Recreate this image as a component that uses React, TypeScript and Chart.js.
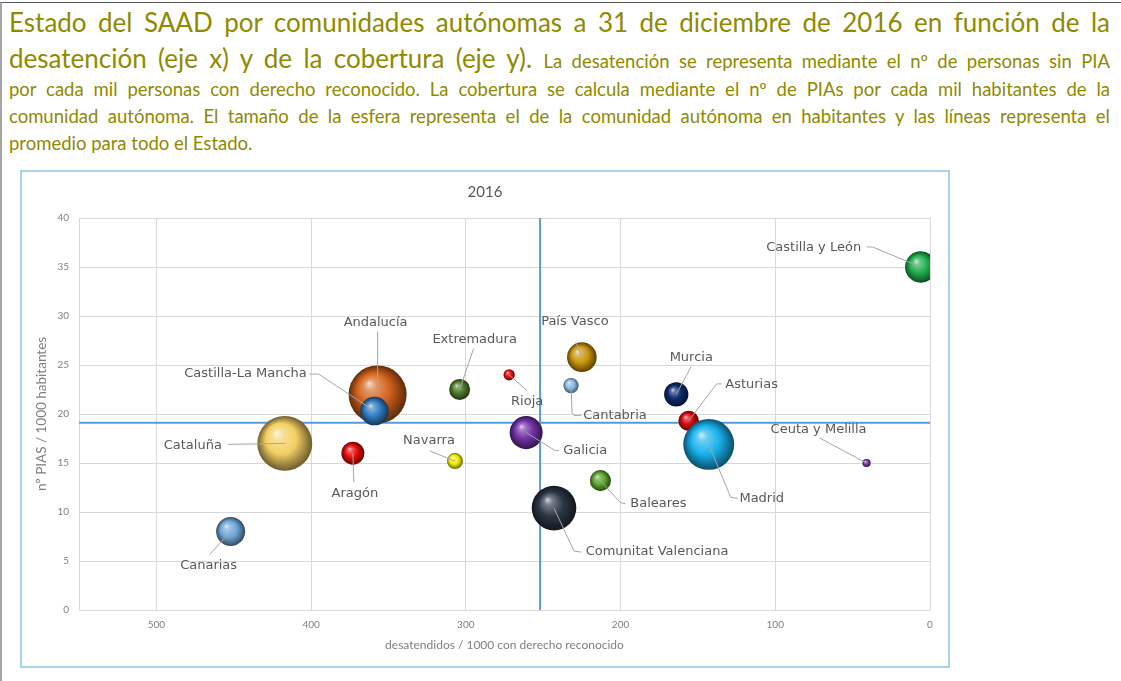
import React, { useEffect, useRef } from 'react';
import { Chart, registerables } from 'chart.js';

Chart.register(...registerables);

// ---------------- data ----------------
const regions = [
  'Castilla y León', 'Andalucía', 'Castilla-La Mancha', 'Cataluña', 'Aragón', 'Canarias',
  'Extremadura', 'Rioja', 'País Vasco', 'Cantabria', 'Galicia', 'Navarra', 'Baleares',
  'Comunitat Valenciana', 'Murcia', 'Asturias', 'Madrid', 'Ceuta y Melilla',
];
// desatendidos / 1000 con derecho reconocido (eje x)
const desatendidos = [6, 357, 359, 417, 373, 452, 304, 272, 225, 232, 261, 307, 213, 243, 164, 156, 143, 41];
// nº PIAS / 1000 habitantes (eje y)
const piasPorMil = [35.0, 22.0, 20.3, 17.0, 16.0, 8.0, 22.5, 24.0, 25.8, 22.9, 18.1, 15.2, 13.2, 10.4, 22.0, 19.3, 16.9, 15.0];
// habitantes (miles) -> tamaño de la esfera
const poblacionMiles = [2448, 8388, 2041, 7523, 1308, 2101, 1088, 315, 2189, 582, 2718, 640, 1107, 4960, 1464, 1042, 6466, 169];
const colores = [
  '#1fae4c', '#d2621b', '#2f7cc0', '#f3cf63', '#e80808', '#6fa6d8',
  '#4c7b2c', '#e81010', '#c9960e', '#8cbde6', '#7232a6', '#f2ef00', '#5ea62e',
  '#2b3644', '#0e2b6c', '#d80606', '#18b2ee', '#7a34aa',
];
const mediaDesatendidos = 252;
const mediaPias = 19.1;

const chartTitle = '2016';
const xTitle = 'desatendidos / 1000 con derecho reconocido';
const yTitle = 'nº PIAS / 1000 habitantes';
const xMin = 0, xMax = 550, xStep = 100;
const yMin = 0, yMax = 40, yStep = 5;

// ---------------- label layout (px offsets from bubble centre) ----------------
const labelOffsets: [number, number][] = [
  [-107, -19], [-2, -72], [-129, -37], [-92, 2], [2, 40], [-22, 34],
  [15, -50], [18, 27], [-7, -36], [44, 30], [59, 18], [-26, -20], [58, 23],
  [103, 44], [15, -37], [63, -36], [53, 54], [-48, -33],
];
const leaderPaths: [number, number][][] = [
  [[-48, -20], [-54, -20]],
  [[0, -63]],
  [[-56, -37], [-65, -37]],
  [[-57, 1]],
  [[1, 29]],
  [[-21, 23]],
  [[14, -41]],
  [[18, 16]],
  [[-6, -15]],
  [[1, 27], [3, 30], [10, 30]],
  [[29, 18], [33, 18]],
  [[-25, -10]],
  [[20, 22], [25, 23]],
  [[20, 43], [27, 44]],
  [[15, -28]],
  [[28, -37], [33, -37]],
  [[22, 53], [29, 54]],
  [[-47, -25]],
];

const maxRadius = 29;

function hexToRgb(h: string): number[] {
  const n = parseInt(h.slice(1), 16);
  return [(n >> 16) & 255, (n >> 8) & 255, n & 255];
}
function mix(hex: string, target: number, a: number): string {
  const c = hexToRgb(hex).map((v) => Math.round(v + (target - v) * a));
  return `rgb(${c[0]},${c[1]},${c[2]})`;
}

const avgLinesPlugin = {
  id: 'avgLines',
  beforeDatasetsDraw(chart: any) {
    const { ctx, chartArea: a, scales } = chart;
    const px = scales.x.getPixelForValue(mediaDesatendidos);
    const py = scales.y.getPixelForValue(mediaPias);
    ctx.save();
    ctx.strokeStyle = '#5b9bd5';
    ctx.lineWidth = 2;
    ctx.beginPath();
    ctx.moveTo(a.left, py);
    ctx.lineTo(a.right, py);
    ctx.moveTo(px, a.top);
    ctx.lineTo(px, a.bottom);
    ctx.stroke();
    ctx.restore();
  },
};

const labelPlugin = {
  id: 'bubbleLabels',
  afterDatasetsDraw(chart: any) {
    const meta = chart.getDatasetMeta(0);
    const ctx = chart.ctx;
    ctx.save();
    ctx.strokeStyle = '#a6a6a6';
    ctx.lineWidth = 1;
    meta.data.forEach((el: any, i: number) => {
      const x = el.x, y = el.y;
      ctx.beginPath();
      ctx.moveTo(x, y);
      leaderPaths[i].forEach(([dx, dy]) => ctx.lineTo(x + dx, y + dy));
      ctx.stroke();
    });
    ctx.font = '13px "DejaVu Sans"';
    ctx.fillStyle = '#595959';
    ctx.textAlign = 'center';
    ctx.textBaseline = 'middle';
    meta.data.forEach((el: any, i: number) => {
      const [lx, ly] = labelOffsets[i];
      ctx.fillText(regions[i], el.x + lx, el.y + ly);
    });
    ctx.restore();
  },
};

function sphereFill(c: any) {
  const base = colores[c.dataIndex] || '#888888';
  if (c.type !== 'data' || !c.raw) return base;
  const ch = c.chart;
  const sx = ch.scales && ch.scales.x, sy = ch.scales && ch.scales.y;
  if (!sx || !sy) return base;
  const cx = sx.getPixelForValue(c.raw.x);
  const cy = sy.getPixelForValue(c.raw.y);
  const r = c.raw.r;
  if (![cx, cy, r].every((v) => Number.isFinite(v)) || r <= 0) return base;
  const g = ch.ctx.createRadialGradient(cx - r * 0.3, cy - r * 0.38, r * 0.02, cx, cy, r);
  g.addColorStop(0, mix(base, 255, 0.75));
  g.addColorStop(0.18, mix(base, 255, 0.35));
  g.addColorStop(0.55, base);
  g.addColorStop(0.87, mix(base, 0, 0.4));
  g.addColorStop(1, mix(base, 0, 0.55));
  return g;
}

function BubbleChart() {
  const ref = useRef<HTMLCanvasElement | null>(null);
  useEffect(() => {
    if (!ref.current) return;
    const maxPop = Math.max(...poblacionMiles);
    const points = regions.map((_, i) => ({
      x: desatendidos[i],
      y: piasPorMil[i],
      r: maxRadius * Math.sqrt(poblacionMiles[i] / maxPop),
    }));
    const chart = new Chart(ref.current, {
      type: 'bubble',
      data: {
        datasets: [
          {
            label: 'CCAA',
            data: points,
            clip: 0,
            borderWidth: 0,
            backgroundColor: sphereFill,
          } as any,
        ],
      },
      options: {
        responsive: false,
        animation: false,
        events: [],
        layout: { padding: { left: 0, right: 11, top: 0, bottom: 0 } },
        plugins: {
          legend: { display: false },
          tooltip: { enabled: false },
          title: {
            display: true,
            text: chartTitle,
            color: '#595959',
            font: { family: 'Lato', size: 15, weight: 'normal', lineHeight: 1.2 },
            padding: { top: 11, bottom: 17 },
          },
        },
        scales: {
          x: {
            type: 'linear',
            reverse: true,
            min: xMin,
            max: xMax,
            afterFit: (s: any) => { s.height = 56; },
            ticks: {
              stepSize: xStep,
              includeBounds: false,
              padding: 9,
              color: '#7f7f7f',
              font: { family: 'Lato', size: 10 },
            },
            grid: { color: '#d9d9d9', drawTicks: false },
            border: { color: '#d9d9d9' },
            title: {
              display: true,
              text: xTitle,
              color: '#7f7f7f',
              font: { family: 'Lato', size: 12, lineHeight: 1.2 },
              padding: { top: 0, bottom: 14 },
            },
          },
          y: {
            type: 'linear',
            min: yMin,
            max: yMax,
            afterFit: (s: any) => { s.width = 57; },
            ticks: {
              stepSize: yStep,
              padding: 10,
              color: '#7f7f7f',
              font: { family: 'Lato', size: 10 },
            },
            grid: { color: '#d9d9d9', drawTicks: false },
            border: { color: '#d9d9d9' },
            title: {
              display: true,
              text: yTitle,
              color: '#7f7f7f',
              font: { family: 'Lato', size: 13.5, lineHeight: 1.2 },
              padding: { top: 12, bottom: 0 },
            },
          },
        },
      } as any,
      plugins: [avgLinesPlugin, labelPlugin],
    });
    return () => chart.destroy();
  }, []);
  return <canvas ref={ref} width={937} height={494} style={{ display: 'block', width: 937, height: 494 }} />;
}

const olive = '#8f8a00';

export default function App() {
  const lineBase: React.CSSProperties = {
    textAlign: 'justify',
    textAlignLast: 'justify' as any,
    whiteSpace: 'nowrap',
  };
  return (
    <div style={{ position: 'absolute', left: 0, top: 0, width: 1121, height: 681, overflow: 'hidden', background: '#fff' }}>
      <div style={{ position: 'absolute', left: 0, top: 2, width: 1140, height: 700, borderTop: '1px solid #5a5a5a', borderLeft: '2px solid #a6a6a6' }} />
      <div style={{ position: 'absolute', left: 9, top: 4, width: 1101, color: olive, fontFamily: 'Lato, sans-serif' }}>
        <div style={{ ...lineBase, fontSize: 26, lineHeight: '36px', height: 36 }}>
          Estado del SAAD por comunidades autónomas a 31 de diciembre de 2016 en función de la
        </div>
        <div style={{ ...lineBase, fontSize: 26, lineHeight: '36px', height: 36 }}>
          desatención (eje x) y de la cobertura (eje y). <span style={{ fontSize: 18.5, lineHeight: '20px' }}>La desatención se representa mediante el nº de personas sin PIA</span>
        </div>
        <div style={{ ...lineBase, fontSize: 18.5, lineHeight: '27px', height: 27 }}>
          por cada mil personas con derecho reconocido. La cobertura se calcula mediante el nº de PIAs por cada mil habitantes de la
        </div>
        <div style={{ ...lineBase, fontSize: 18.5, lineHeight: '27px', height: 27 }}>
          comunidad autónoma. El tamaño de la esfera representa el de la comunidad autónoma en habitantes y las líneas representa el
        </div>
        <div style={{ fontSize: 18.5, lineHeight: '27px', height: 27, textAlign: 'left' }}>
          promedio para todo el Estado.
        </div>
      </div>
      <div style={{ position: 'absolute', left: 20, top: 170, width: 926, height: 494, border: '2px solid #a6d6e6', background: '#fff' }}>
        <div style={{ width: 926, height: 494, position: 'relative' }}>
          <BubbleChart />
        </div>
      </div>
    </div>
  );
}
